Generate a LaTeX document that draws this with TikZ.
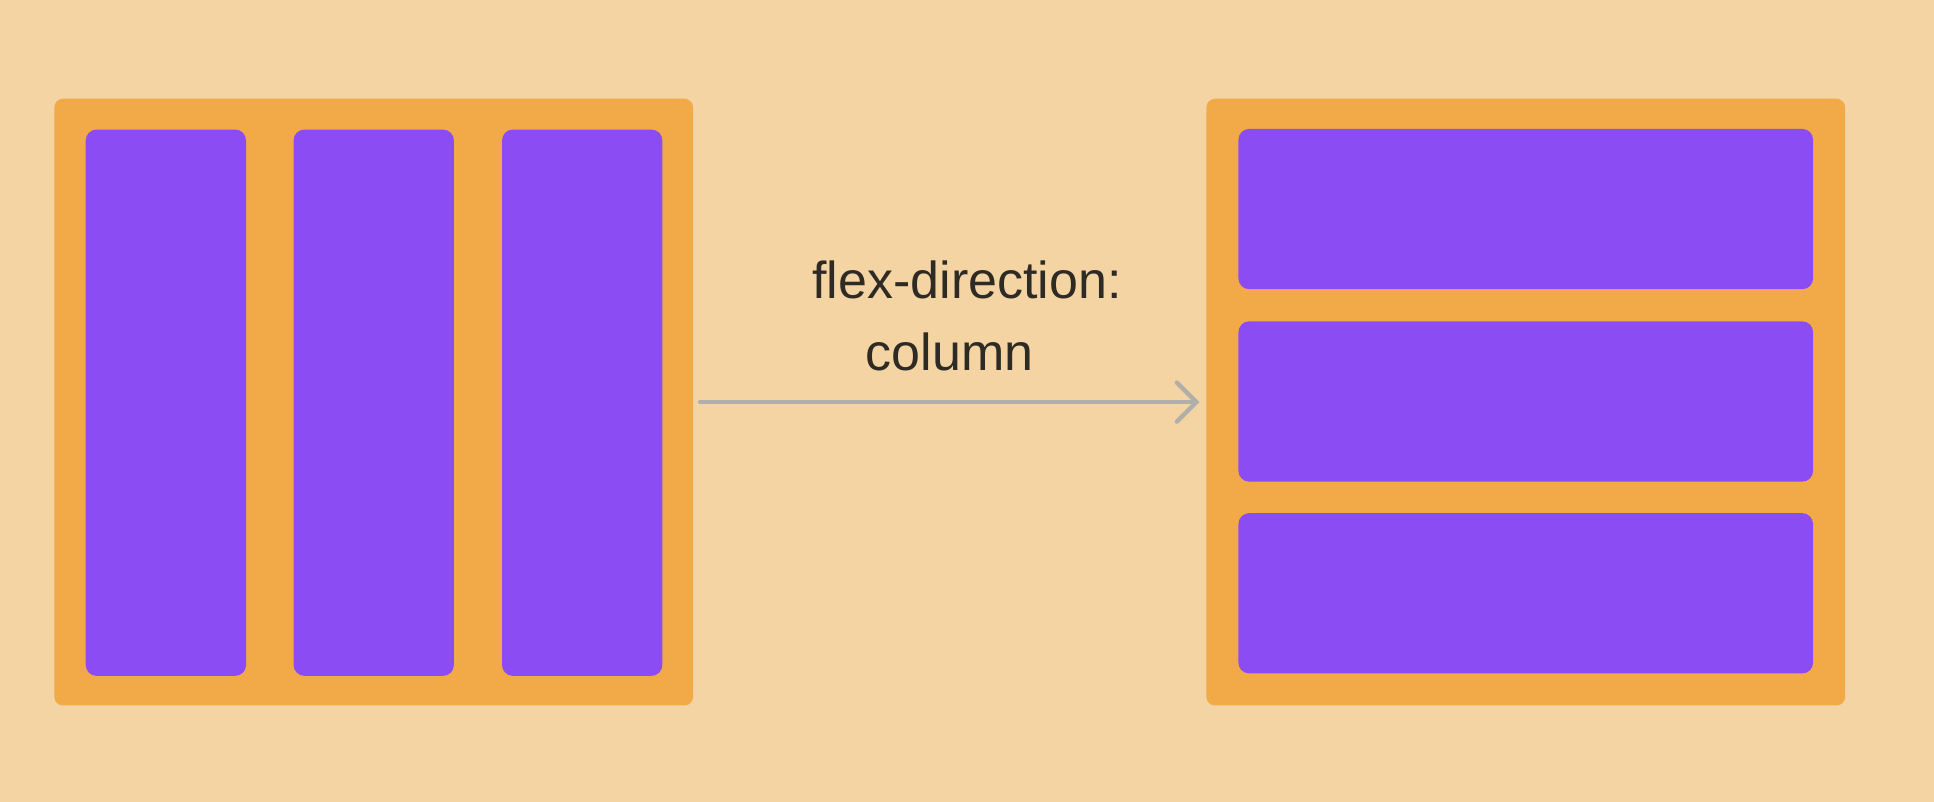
\documentclass[tikz,border=0pt]{standalone}
\usepackage{fontspec}
\setmainfont{Liberation Sans}
\usetikzlibrary{arrows.meta}
\definecolor{bgcol}{HTML}{F5D4A4}
\definecolor{boxcol}{HTML}{F2A947}
\definecolor{itemcol}{HTML}{8C4CF4}
\definecolor{txtcol}{HTML}{2E2A24}
\definecolor{arrcol}{HTML}{B0AFAA}
\begin{document}
\begin{tikzpicture}[x=0.02cm,y=-0.02cm,
    container/.style={fill=boxcol,rounded corners=4pt,minimum width=10.36cm,minimum height=9.84cm,inner sep=0pt},
    col/.style={fill=itemcol,rounded corners=5pt,minimum width=2.6cm,minimum height=8.86cm,inner sep=0pt},
    row/.style={fill=itemcol,rounded corners=5pt,minimum width=9.32cm,minimum height=2.6cm,inner sep=0pt}]
    \fill[bgcol] (0,0) rectangle (1568,650);
    \useasboundingbox (0,0) rectangle (1568,650);
    \node[container] (left) at (303,326) {};
    \node[col] (c1) at (134.5,326.5) {};
    \node[col] (c2) at (303,326.5) {};
    \node[col] (c3) at (472,326.5) {};
    \node[container] (right) at (1237,326) {};
    \node[row] (r1) at (1237,169.5) {};
    \node[row] (r2) at (1237,325.5) {};
    \node[row] (r3) at (1237,481) {};
    \node[text=txtcol,font=\fontsize{24}{28}\selectfont] (lab1) at (784,227) {flex-direction:};
    \node[text=txtcol,font=\fontsize{24}{28}\selectfont] (lab2) at (770,285) {column};
    \draw[arrcol,line width=2pt,line cap=round,-{Straight Barb[length=9pt,width=18pt,line cap=round]}]
        ([xshift=3pt]left.east) -- ([xshift=-3pt]right.west);
\end{tikzpicture}
\end{document}
